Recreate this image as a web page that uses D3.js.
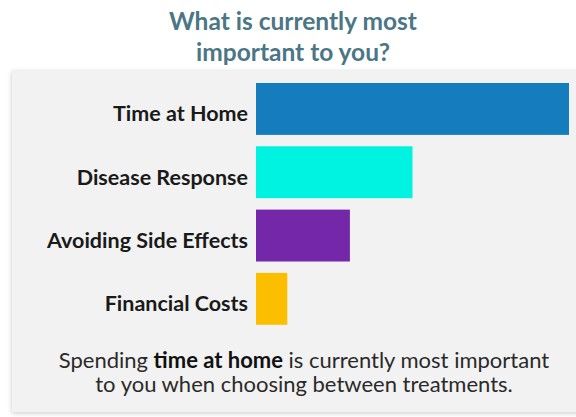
<!DOCTYPE html>
<html>
<head>
<meta charset="utf-8">
<script src="https://cdn.jsdelivr.net/npm/d3@7"></script>
<style>
  body { margin: 0; background: #fff; }
  svg { display: block; font-family: Lato, "Open Sans", sans-serif; }
</style>
</head>
<body>
<svg id="chart" width="576" height="417"></svg>
<script>
const categories = ["Time at Home", "Disease Response", "Avoiding Side Effects", "Financial Costs"];
const values = [50, 25, 15, 5];
const colors = ["#157dbd", "#00f2e0", "#7427a8", "#fbbf00"];
const titleLines = ["What is currently most", "important to you?"];

const width = 576, height = 417;
const svg = d3.select("#chart");

// drop shadow for the grey panel
const defs = svg.append("defs");
const shadow = defs.append("filter").attr("id", "shadow")
  .attr("x", "-5%").attr("y", "-5%").attr("width", "115%").attr("height", "115%");
shadow.append("feDropShadow")
  .attr("dx", 0).attr("dy", 1).attr("stdDeviation", 2.5)
  .attr("flood-color", "#000").attr("flood-opacity", 0.22);

svg.append("rect")
  .attr("x", 12).attr("y", 71)
  .attr("width", 580).attr("height", 341)
  .attr("fill", "#f2f2f2")
  .attr("filter", "url(#shadow)");

svg.selectAll("text.title")
  .data(titleLines)
  .join("text")
  .attr("class", "title")
  .attr("x", 293)
  .attr("y", (d, i) => 30 + i * 31)
  .attr("text-anchor", "middle")
  .attr("font-size", 24.5)
  .attr("font-weight", "bold")
  .attr("fill", "#4a7686")
  .text(d => d);

const x = d3.scaleLinear().domain([0, 50]).range([256, 569]);
const y = d3.scaleBand()
  .domain(categories)
  .range([77.3, 330.5])
  .paddingInner(0.18)
  .paddingOuter(0.09);

svg.selectAll("rect.bar")
  .data(categories)
  .join("rect")
  .attr("class", "bar")
  .attr("x", x(0))
  .attr("y", d => y(d))
  .attr("width", (d, i) => x(values[i]) - x(0))
  .attr("height", y.bandwidth())
  .attr("fill", (d, i) => colors[i]);

svg.selectAll("text.label")
  .data(categories)
  .join("text")
  .attr("class", "label")
  .attr("x", 248)
  .attr("y", d => y(d) + y.bandwidth() / 2 + 12.5)
  .attr("text-anchor", "end")
  .attr("font-size", 21.5)
  .attr("font-weight", "bold")
  .attr("fill", "#1a1a1a")
  .text(d => d);

// summary note: first line is split in pieces so the bold phrase can sit inline
const noteParts = [
  { t: "Spending", bold: false },
  { t: "time at home", bold: true },
  { t: "is currently most important", bold: false }
];
const gap = 5.5;
const parts = svg.selectAll("text.note")
  .data(noteParts)
  .join("text")
  .attr("class", "note")
  .attr("y", 368)
  .attr("font-size", 22)
  .attr("font-weight", d => d.bold ? "bold" : "normal")
  .attr("fill", d => d.bold ? "#111" : "#2a2a2a")
  .text(d => d.t);
const lens = parts.nodes().map(n => n.getComputedTextLength());
let cursor = 304 - (d3.sum(lens) + gap * (lens.length - 1)) / 2;
parts.attr("x", (d, i) => {
  const px = cursor;
  cursor += lens[i] + gap;
  return px;
});

svg.append("text")
  .attr("x", 304).attr("y", 392)
  .attr("text-anchor", "middle")
  .attr("font-size", 22)
  .attr("fill", "#2a2a2a")
  .text("to you when choosing between treatments.");
</script>
</body>
</html>
